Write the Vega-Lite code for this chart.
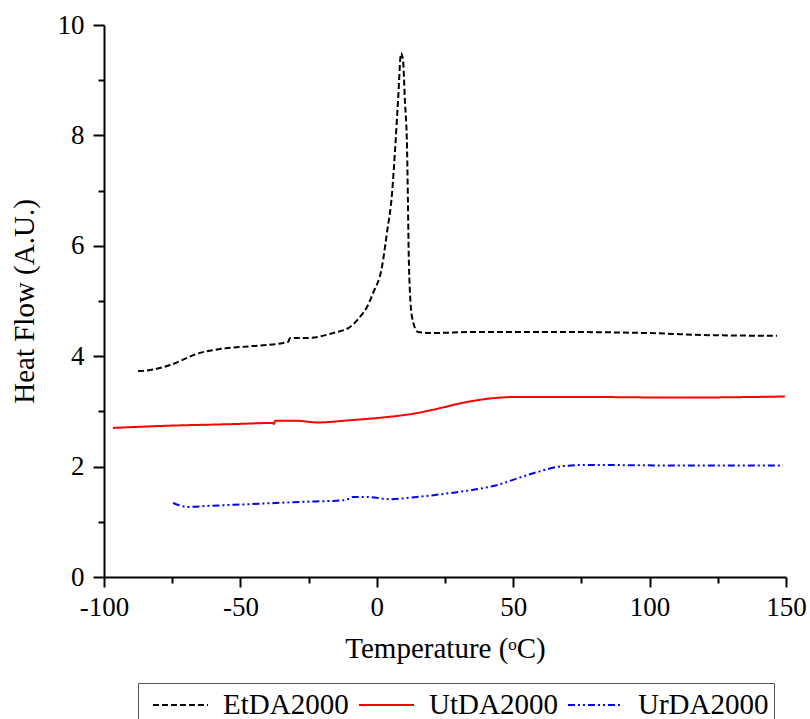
{
  "$schema": "https://vega.github.io/schema/vega-lite/v6.json",
  "autosize": "none",
  "width": 682,
  "height": 552,
  "padding": {"left": 104, "top": 25, "right": 24, "bottom": 142},
  "background": "white",
  "config": {
    "view": {"stroke": null},
    "font": "Liberation Serif",
    "axis": {
      "labelFont": "Liberation Serif",
      "titleFont": "Liberation Serif",
      "labelFontSize": 27,
      "titleFontSize": 29,
      "titleFontWeight": "normal",
      "labelColor": "black",
      "titleColor": "black",
      "domainColor": "black",
      "domainWidth": 2,
      "tickColor": "black",
      "tickWidth": 2,
      "grid": false
    },
    "legend": {
      "title": null,
      "orient": "none",
      "legendX": 34,
      "legendY": 658,
      "direction": "horizontal",
      "columns": 3,
      "symbolType": "M-0.44,0H3",
      "symbolSize": 1024,
      "symbolStrokeWidth": 2,
      "symbolFillColor": "transparent",
      "labelFont": "Liberation Serif",
      "labelFontSize": 29,
      "labelColor": "black",
      "labelOffset": 46,
      "columnPadding": -6,
      "strokeColor": "#555555",
      "padding": 5
    }
  },
  "data": {
    "values": [
      {"s": "EtDA2000", "t": -87.5, "h": 3.73},
      {"s": "EtDA2000", "t": -83, "h": 3.75},
      {"s": "EtDA2000", "t": -75.8, "h": 3.84},
      {"s": "EtDA2000", "t": -64.8, "h": 4.06},
      {"s": "EtDA2000", "t": -57.5, "h": 4.13},
      {"s": "EtDA2000", "t": -46.5, "h": 4.18},
      {"s": "EtDA2000", "t": -34.4, "h": 4.24},
      {"s": "EtDA2000", "t": -32.5, "h": 4.26},
      {"s": "EtDA2000", "t": -31.8, "h": 4.33},
      {"s": "EtDA2000", "t": -25.6, "h": 4.33},
      {"s": "EtDA2000", "t": -16, "h": 4.42},
      {"s": "EtDA2000", "t": -9.8, "h": 4.53},
      {"s": "EtDA2000", "t": -6.2, "h": 4.71},
      {"s": "EtDA2000", "t": -3.6, "h": 4.89},
      {"s": "EtDA2000", "t": -1.4, "h": 5.14},
      {"s": "EtDA2000", "t": 1.9, "h": 5.62},
      {"s": "EtDA2000", "t": 3.7, "h": 6.23},
      {"s": "EtDA2000", "t": 5.6, "h": 6.96},
      {"s": "EtDA2000", "t": 6.7, "h": 7.74},
      {"s": "EtDA2000", "t": 7.8, "h": 8.64},
      {"s": "EtDA2000", "t": 8.9, "h": 9.49},
      {"s": "EtDA2000", "t": 9.6, "h": 9.37},
      {"s": "EtDA2000", "t": 10.3, "h": 8.64},
      {"s": "EtDA2000", "t": 11.1, "h": 7.74},
      {"s": "EtDA2000", "t": 11.4, "h": 6.83},
      {"s": "EtDA2000", "t": 11.8, "h": 5.62},
      {"s": "EtDA2000", "t": 12.9, "h": 4.71},
      {"s": "EtDA2000", "t": 15.1, "h": 4.44},
      {"s": "EtDA2000", "t": 19.5, "h": 4.42},
      {"s": "EtDA2000", "t": 37.8, "h": 4.44},
      {"s": "EtDA2000", "t": 62.4, "h": 4.44},
      {"s": "EtDA2000", "t": 99, "h": 4.42},
      {"s": "EtDA2000", "t": 123, "h": 4.38},
      {"s": "EtDA2000", "t": 146.7, "h": 4.37},
      {"s": "UtDA2000", "t": -96.7, "h": 2.7},
      {"s": "UtDA2000", "t": -76.9, "h": 2.74},
      {"s": "UtDA2000", "t": -52.7, "h": 2.77},
      {"s": "UtDA2000", "t": -38.2, "h": 2.79},
      {"s": "UtDA2000", "t": -37.8, "h": 2.77},
      {"s": "UtDA2000", "t": -37.2, "h": 2.83},
      {"s": "UtDA2000", "t": -29.3, "h": 2.83},
      {"s": "UtDA2000", "t": -21.9, "h": 2.8},
      {"s": "UtDA2000", "t": -9.8, "h": 2.84},
      {"s": "UtDA2000", "t": 2.3, "h": 2.89},
      {"s": "UtDA2000", "t": 14.7, "h": 2.97},
      {"s": "UtDA2000", "t": 20.6, "h": 3.03},
      {"s": "UtDA2000", "t": 33, "h": 3.17},
      {"s": "UtDA2000", "t": 45.2, "h": 3.25},
      {"s": "UtDA2000", "t": 50, "h": 3.26},
      {"s": "UtDA2000", "t": 80, "h": 3.26},
      {"s": "UtDA2000", "t": 110, "h": 3.25},
      {"s": "UtDA2000", "t": 149.6, "h": 3.27},
      {"s": "UrDA2000", "t": -74.7, "h": 1.34},
      {"s": "UrDA2000", "t": -69.2, "h": 1.27},
      {"s": "UrDA2000", "t": -61.1, "h": 1.29},
      {"s": "UrDA2000", "t": -46.5, "h": 1.32},
      {"s": "UrDA2000", "t": -28.2, "h": 1.36},
      {"s": "UrDA2000", "t": -12.4, "h": 1.39},
      {"s": "UrDA2000", "t": -10, "h": 1.42},
      {"s": "UrDA2000", "t": -8.7, "h": 1.45},
      {"s": "UrDA2000", "t": -3.6, "h": 1.45},
      {"s": "UrDA2000", "t": 4.8, "h": 1.41},
      {"s": "UrDA2000", "t": 14.7, "h": 1.45},
      {"s": "UrDA2000", "t": 26.8, "h": 1.52},
      {"s": "UrDA2000", "t": 38.9, "h": 1.61},
      {"s": "UrDA2000", "t": 45.2, "h": 1.68},
      {"s": "UrDA2000", "t": 49.9, "h": 1.76},
      {"s": "UrDA2000", "t": 58.7, "h": 1.9},
      {"s": "UrDA2000", "t": 68.3, "h": 2.01},
      {"s": "UrDA2000", "t": 77, "h": 2.03},
      {"s": "UrDA2000", "t": 111, "h": 2.02},
      {"s": "UrDA2000", "t": 148.9, "h": 2.02}
    ]
  },
  "mark": {"type": "line", "strokeWidth": 2, "interpolate": "monotone"},
  "encoding": {
    "x": {
      "field": "t",
      "type": "quantitative",
      "scale": {"domain": [-100, 150], "nice": false, "zero": false},
      "axis": {
        "title": "Temperature (ᵒC)",
        "values": [-100, -75, -50, -25, 0, 25, 50, 75, 100, 125, 150],
        "labelExpr": "datum.value % 50 === 0 ? '' + datum.value : ''",
        "tickSize": {"condition": {"test": "datum.value % 50 === 0", "value": 10}, "value": 6},
        "labelPadding": 7,
        "titlePadding": 14,
        "labelFlush": false,
        "labelOverlap": false
      }
    },
    "y": {
      "field": "h",
      "type": "quantitative",
      "scale": {"domain": [0, 10], "nice": false},
      "axis": {
        "title": "Heat Flow (A.U.)",
        "values": [0, 1, 2, 3, 4, 5, 6, 7, 8, 9, 10],
        "labelExpr": "datum.value % 2 === 0 ? datum.label : ''",
        "tickSize": {"condition": {"test": "datum.value % 2 === 0", "value": 11}, "value": 6},
        "labelPadding": 9,
        "titlePadding": 18,
        "labelFlush": false,
        "labelOverlap": false
      }
    },
    "color": {
      "field": "s",
      "type": "nominal",
      "sort": ["EtDA2000", "UtDA2000", "UrDA2000"],
      "scale": {"domain": ["EtDA2000", "UtDA2000", "UrDA2000"], "range": ["#000000", "#ff0000", "#0000ff"]}
    },
    "strokeDash": {
      "field": "s",
      "type": "nominal",
      "sort": ["EtDA2000", "UtDA2000", "UrDA2000"],
      "scale": {"domain": ["EtDA2000", "UtDA2000", "UrDA2000"], "range": [[6, 3], [1, 0], [7, 3, 2, 3, 2, 3]]}
    }
  }
}
